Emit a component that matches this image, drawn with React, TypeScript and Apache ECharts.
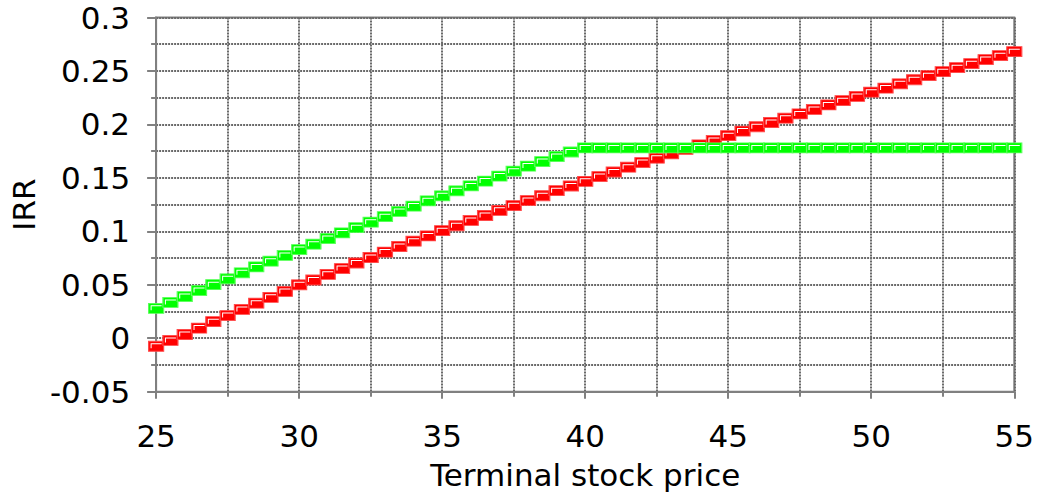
import React, { useEffect, useRef } from "react";
import * as echarts from "echarts";

const stockPrices: number[] = [
  25, 25.5, 26, 26.5, 27, 27.5, 28, 28.5, 29, 29.5,
  30, 30.5, 31, 31.5, 32, 32.5, 33, 33.5, 34, 34.5,
  35, 35.5, 36, 36.5, 37, 37.5, 38, 38.5, 39, 39.5,
  40, 40.5, 41, 41.5, 42, 42.5, 43, 43.5, 44, 44.5,
  45, 45.5, 46, 46.5, 47, 47.5, 48, 48.5, 49, 49.5,
  50, 50.5, 51, 51.5, 52, 52.5, 53, 53.5, 54, 54.5, 55,
];

const redIRR: number[] = [
  -0.0075, -0.002, 0.0035, 0.0095, 0.0155, 0.0212, 0.027, 0.0328, 0.0383, 0.0438,
  0.05, 0.0545, 0.0598, 0.0652, 0.0704, 0.0755, 0.0806, 0.0858, 0.0908, 0.0957,
  0.1006, 0.1052, 0.1102, 0.1148, 0.1196, 0.124, 0.1288, 0.1333, 0.138, 0.1424,
  0.1468, 0.1512, 0.1555, 0.16, 0.1643, 0.1684, 0.1725, 0.1767, 0.1808, 0.185,
  0.1895, 0.1938, 0.1978, 0.2018, 0.2058, 0.2098, 0.214, 0.2182, 0.2222, 0.2262,
  0.2302, 0.234, 0.238, 0.2418, 0.2456, 0.2493, 0.2531, 0.2568, 0.2606, 0.2643, 0.268,
];

const greenIRR: number[] = [
  0.028, 0.0335, 0.039, 0.0446, 0.0501, 0.0556, 0.0612, 0.0667, 0.0721, 0.0775,
  0.0829, 0.088, 0.0933, 0.0985, 0.1034, 0.1086, 0.1137, 0.1186, 0.1236, 0.1285,
  0.1332, 0.1379, 0.1425, 0.147, 0.1517, 0.1563, 0.161, 0.1652, 0.17, 0.1742,
  0.178, 0.178, 0.178, 0.178, 0.178, 0.178, 0.178, 0.178, 0.178, 0.178,
  0.178, 0.178, 0.178, 0.178, 0.178, 0.178, 0.178, 0.178, 0.178, 0.178,
  0.178, 0.178, 0.178, 0.178, 0.178, 0.178, 0.178, 0.178, 0.178, 0.178, 0.178,
];

const xTitle = "Terminal stock price";
const yTitle = "IRR";

const FONT = "'DejaVu Sans', 'Liberation Sans', Arial, sans-serif";
const GRID_GRAY = "#808080";
const DOT_GRAY = "#6a6a6a";
const HILITE = "path://M0,0 H11 V1 H1 V5 H0 Z";

export default function App() {
  const ref = useRef<HTMLDivElement>(null);

  useEffect(() => {
    document.body.style.margin = "0";
    if (!ref.current) return;
    const chart = echarts.init(ref.current, undefined, { renderer: "svg" });

    const redData = stockPrices.map((x, i) => [x, redIRR[i]]);
    const greenData = stockPrices.map((x, i) => [x, greenIRR[i]]);

    const markerSeries = (data: number[][], color: string, border: string, z: number) => [
      {
        type: "line",
        data,
        z,
        symbol: "rect",
        symbolSize: [15, 10],
        showSymbol: true,
        lineStyle: { color, width: 3 },
        itemStyle: { color, borderColor: border, borderWidth: 1 },
        emphasis: { disabled: true },
        silent: true,
      },
      {
        type: "line",
        data,
        z: z + 1,
        symbol: HILITE,
        symbolSize: [11, 5],
        symbolOffset: [0, -0.5],
        showSymbol: true,
        lineStyle: { width: 0, opacity: 0 },
        itemStyle: { color: "#ffffff" },
        emphasis: { disabled: true },
        silent: true,
      },
    ];

    const dotted = { show: true, lineStyle: { color: DOT_GRAY, width: 2, type: [2, 1] } };

    chart.setOption({
      animation: false,
      grid: {
        left: 153,
        right: 18,
        top: 17.5,
        bottom: 110.3,
        show: true,
        borderColor: GRID_GRAY,
        borderWidth: 2,
      },
      xAxis: {
        type: "value",
        min: 25,
        max: 55,
        interval: 5,
        name: xTitle,
        nameLocation: "middle",
        nameGap: 68,
        nameTextStyle: { fontFamily: FONT, fontSize: 31, color: "#000" },
        axisLine: { show: true, onZero: false, lineStyle: { color: GRID_GRAY, width: 2 } },
        axisTick: { show: true, length: 7, lineStyle: { color: GRID_GRAY, width: 2 } },
        minorTick: { show: true, splitNumber: 2, length: 5, lineStyle: { color: GRID_GRAY, width: 2 } },
        splitLine: dotted,
        minorSplitLine: dotted,
        axisLabel: { fontFamily: FONT, fontSize: 31, color: "#000", margin: 29 },
      },
      yAxis: {
        type: "value",
        min: -0.05,
        max: 0.3,
        interval: 0.05,
        name: yTitle,
        nameLocation: "middle",
        nameGap: 112,
        nameTextStyle: { fontFamily: FONT, fontSize: 31, color: "#000" },
        axisLine: { show: true, onZero: false, lineStyle: { color: GRID_GRAY, width: 2 } },
        axisTick: { show: true, length: 9, lineStyle: { color: GRID_GRAY, width: 2 } },
        minorTick: { show: true, splitNumber: 2, length: 5, lineStyle: { color: GRID_GRAY, width: 2 } },
        splitLine: dotted,
        minorSplitLine: dotted,
        axisLabel: {
          fontFamily: FONT,
          fontSize: 31,
          color: "#000",
          margin: 26,
          formatter: (v: number) => String(parseFloat(v.toFixed(3))),
        },
      },
      series: [
        ...markerSeries(redData, "#ff0000", "#ff4a4a", 2),
        ...markerSeries(greenData, "#00ff00", "#5aff5a", 4),
      ],
    });

    return () => chart.dispose();
  }, []);

  return <div ref={ref} style={{ width: 1037, height: 502 }} />;
}
